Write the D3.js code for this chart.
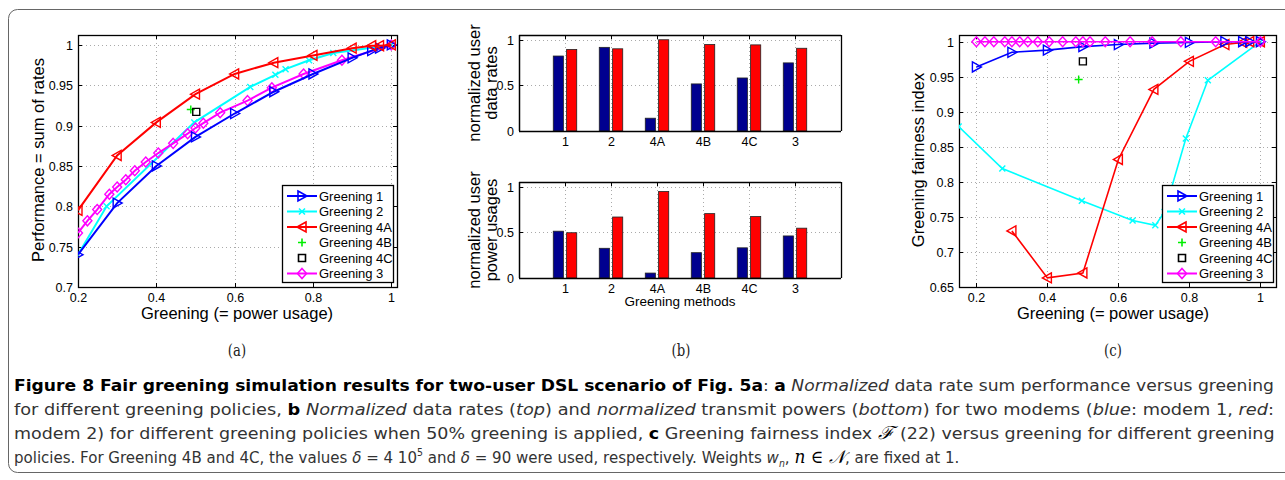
<!DOCTYPE html>
<html>
<head>
<meta charset="utf-8">
<script src="https://cdn.jsdelivr.net/npm/d3@7"></script>
<style>
  body { margin: 0; background: #fff; }
  svg { display: block; }
</style>
</head>
<body>
<svg id="fig" width="1285" height="480" font-family="'Liberation Sans', Arial, Helvetica, sans-serif"></svg>
<script>
// ---- data ----
var redX = [0.2, 0.3, 0.4, 0.5, 0.6, 0.7, 0.8, 0.9, 0.95, 0.97, 1.0];
var g1A  = [0.740, 0.804, 0.850, 0.886, 0.915, 0.942, 0.964, 0.984, 0.993, 0.996, 1.0];
var g1C  = [0.964, 0.985, 0.988, 0.993, 0.996, 0.998, 0.999, 1.0, 1.0, 1.0, 1.0];
var g4aA = [0.795, 0.863, 0.904, 0.939, 0.964, 0.978, 0.987, 0.996, 0.999, 0.999, 1.0];
var g4aC = [null, 0.730, 0.663, 0.670, 0.832, 0.932, 0.972, 0.996, 0.999, 1.0, 1.0];

var g2X  = [0.15, 0.273, 0.497, 0.64, 0.704, 0.73, 0.79, 0.852, 1.0];
var g2A  = [0.699, 0.800, 0.904, 0.948, 0.963, 0.970, 0.981, 0.990, 1.0];
var g2C  = [0.879, 0.819, 0.773, 0.745, 0.738, 0.757, 0.862, 0.945, 1.0];

var g3X  = [0.2, 0.224, 0.249, 0.28, 0.3, 0.322, 0.345, 0.373, 0.405, 0.443, 0.48, 0.5, 0.52, 0.563, 0.633, 0.695, 0.776, 0.874, 1.0];
var g3A  = [0.767, 0.782, 0.796, 0.815, 0.824, 0.833, 0.844, 0.855, 0.866, 0.878, 0.890, 0.897, 0.903, 0.916, 0.931, 0.947, 0.964, 0.981, 1.0];
var g3C  = [1, 1, 1, 1, 1, 1, 1, 1, 1, 1, 1, 1, 1, 1, 1, 1, 1, 1, 1];

var g4bA = [0.488, 0.920], g4bC = [0.488, 0.946];
var g4cA = [0.502, 0.917], g4cC = [0.500, 0.972];

var methods = ["1", "2", "4A", "4B", "4C", "3"];
var rate1 = [0.820, 0.915, 0.140, 0.515, 0.580, 0.745];
var rate2 = [0.892, 0.899, 0.998, 0.946, 0.942, 0.905];
var pow1  = [0.512, 0.325, 0.054, 0.277, 0.330, 0.460];
var pow2  = [0.495, 0.667, 0.946, 0.704, 0.672, 0.545];

var lineTicksA = [0.7, 0.75, 0.8, 0.85, 0.9, 0.95, 1];
var lineTicksC = [0.65, 0.7, 0.75, 0.8, 0.85, 0.9, 0.95, 1];
var xTicks = [0.2, 0.4, 0.6, 0.8, 1];
var barTicks = [0, 0.5, 1];
var legendNames = ["Greening 1", "Greening 2", "Greening 4A", "Greening 4B", "Greening 4C", "Greening 3"];

var svg = d3.select("#fig");
svg.append("rect").attr("width", 1285).attr("height", 480).attr("fill", "#fff");
// rounded frame round the figure
svg.append("rect").attr("x", 8.5).attr("y", 9.5).attr("width", 1300).attr("height", 463)
  .attr("rx", 9).attr("fill", "none").attr("stroke", "#666").attr("stroke-width", 1);

var markers = {
  right: "M-4,-5L5,0L-4,5Z",
  left: "M4,-5L-5,0L4,5Z",
  cross: "M-3,-3L3,3M-3,3L3,-3",
  plus: "M-4,0H4M0,-4V4",
  square: "M-3.5,-3.5h7v7h-7z",
  diamond: "M0,-5L4.5,0L0,5L-4.5,0Z"
};

function makeAxes(id, box, xDom, yDom, xt, yt, fmtX, fmtY) {
  var g = svg.append("g");
  var x = d3.scaleLinear().domain(xDom).range([box.x0, box.x1]);
  var y = d3.scaleLinear().domain(yDom).range([box.y1, box.y0]);
  svg.append("clipPath").attr("id", id).append("rect")
    .attr("x", box.x0).attr("y", box.y0).attr("width", box.x1 - box.x0).attr("height", box.y1 - box.y0);
  // grid
  g.selectAll(null).data(xt).enter().append("line")
    .attr("x1", function(d) { return Math.round(x(d)) + 0.5; }).attr("x2", function(d) { return Math.round(x(d)) + 0.5; })
    .attr("y1", box.y0).attr("y2", box.y1)
    .attr("stroke", "#aaa").attr("stroke-dasharray", "1,3");
  g.selectAll(null).data(yt).enter().append("line")
    .attr("y1", function(d) { return Math.round(y(d)) + 0.5; }).attr("y2", function(d) { return Math.round(y(d)) + 0.5; })
    .attr("x1", box.x0).attr("x2", box.x1)
    .attr("stroke", "#aaa").attr("stroke-dasharray", "1,3");
  // inner ticks on all four sides
  var tk = 4;
  xt.forEach(function(d) {
    var px = Math.round(x(d)) + 0.5;
    g.append("line").attr("x1", px).attr("x2", px).attr("y1", box.y1).attr("y2", box.y1 - tk).attr("stroke", "#000");
    g.append("line").attr("x1", px).attr("x2", px).attr("y1", box.y0).attr("y2", box.y0 + tk).attr("stroke", "#000");
    g.append("text").attr("x", px).attr("y", box.y1 + 15).attr("text-anchor", "middle")
      .attr("font-size", 12.5).text(fmtX(d));
  });
  yt.forEach(function(d) {
    var py = Math.round(y(d)) + 0.5;
    g.append("line").attr("x1", box.x0).attr("x2", box.x0 + tk).attr("y1", py).attr("y2", py).attr("stroke", "#000");
    g.append("line").attr("x1", box.x1).attr("x2", box.x1 - tk).attr("y1", py).attr("y2", py).attr("stroke", "#000");
    g.append("text").attr("x", box.x0 - 5).attr("y", py + 4.5).attr("text-anchor", "end")
      .attr("font-size", 12.5).text(fmtY(d));
  });
  g.append("rect").attr("x", box.x0 + 0.5).attr("y", box.y0 + 0.5)
    .attr("width", box.x1 - box.x0).attr("height", box.y1 - box.y0)
    .attr("fill", "none").attr("stroke", "#000").attr("stroke-width", 1.3);
  return { x: x, y: y, g: g };
}

function series(ax, clipId, xs, ys, color, mk, lw) {
  var pts = xs.map(function(d, i) { return [d, ys[i]]; });
  var gg = svg.append("g").attr("clip-path", "url(#" + clipId + ")");
  if (lw > 0) {
    gg.append("path").datum(pts)
      .attr("d", d3.line().defined(function(p) { return p[1] != null; })
        .x(function(p) { return ax.x(p[0]); }).y(function(p) { return ax.y(p[1]); }))
      .attr("fill", "none").attr("stroke", color).attr("stroke-width", lw);
  }
  gg.selectAll(null).data(pts.filter(function(p) { return p[1] != null; })).enter().append("path")
    .attr("transform", function(p) { return "translate(" + ax.x(p[0]) + "," + ax.y(p[1]) + ")"; })
    .attr("d", markers[mk]).attr("fill", "none").attr("stroke", color).attr("stroke-width", 1.4);
}

var legendSpec = [
  { c: "#0000ff", m: "right", line: true },
  { c: "#00ffff", m: "cross", line: true },
  { c: "#ff0000", m: "left", line: true },
  { c: "#00ee00", m: "plus", line: false },
  { c: "#000000", m: "square", line: false },
  { c: "#ff00ff", m: "diamond", line: true }
];

function legend(x0, y0, w) {
  var g = svg.append("g");
  g.append("rect").attr("x", x0 + 0.5).attr("y", y0 + 0.5).attr("width", w).attr("height", 97)
    .attr("fill", "#fff").attr("stroke", "#000").attr("stroke-width", 1.3);
  legendNames.forEach(function(n, i) {
    var cy = y0 + 11 + i * 15.5;
    var s = legendSpec[i];
    if (s.line) g.append("line").attr("x1", x0 + 5).attr("x2", x0 + 35).attr("y1", cy).attr("y2", cy)
      .attr("stroke", s.c).attr("stroke-width", 2);
    g.append("path").attr("transform", "translate(" + (x0 + 20) + "," + cy + ")")
      .attr("d", markers[s.m]).attr("fill", "none").attr("stroke", s.c).attr("stroke-width", 1.6);
    g.append("text").attr("x", x0 + 37).attr("y", cy + 4.5).attr("font-size", 13).text(n);
  });
}

var f2 = function(d) { return d === 1 ? "1" : String(d); };

// ---- panel (a) ----
var boxA = { x0: 78, x1: 397, y0: 35, y1: 287 };
var axA = makeAxes("clipA", boxA, [0.2, 1.0146], [0.7, 1.0123], xTicks, lineTicksA, f2, f2);
series(axA, "clipA", g2X, g2A, "#00ffff", "cross", 2);
series(axA, "clipA", g3X, g3A, "#ff00ff", "diamond", 2);
series(axA, "clipA", redX, g1A, "#0000ff", "right", 2);
series(axA, "clipA", redX, g4aA, "#ff0000", "left", 2);
series(axA, "clipA", [g4bA[0]], [g4bA[1]], "#00ee00", "plus", 0);
series(axA, "clipA", [g4cA[0]], [g4cA[1]], "#000000", "square", 0);
legend(282, 185, 111);
axA.g.append("text").attr("x", 237).attr("y", 319).attr("text-anchor", "middle").attr("font-size", 16.5)
  .text("Greening (= power usage)");
axA.g.append("text").attr("transform", "translate(44,160) rotate(-90)").attr("text-anchor", "middle")
  .attr("font-size", 16.5).text("Performance = sum of rates");

// ---- panel (c) ----
var boxC = { x0: 959, x1: 1276, y0: 35, y1: 287 };
var axC = makeAxes("clipC", boxC, [0.151, 1.044], [0.65, 1.0096], xTicks, lineTicksC, f2, f2);
series(axC, "clipC", g2X, g2C, "#00ffff", "cross", 1.6);
series(axC, "clipC", redX, g4aC, "#ff0000", "left", 1.6);
series(axC, "clipC", redX, g1C, "#0000ff", "right", 1.6);
series(axC, "clipC", g3X, g3C, "#ff00ff", "diamond", 1.6);
series(axC, "clipC", [g4bC[0]], [g4bC[1]], "#00ee00", "plus", 0);
series(axC, "clipC", [g4cC[0]], [g4cC[1]], "#000000", "square", 0);
legend(1162, 185, 111);
axC.g.append("text").attr("x", 1113).attr("y", 319).attr("text-anchor", "middle").attr("font-size", 16.5)
  .text("Greening (= power usage)");
axC.g.append("text").attr("transform", "translate(924,160) rotate(-90)").attr("text-anchor", "middle")
  .attr("font-size", 16.5).text("Greening fairness index");

// ---- panel (b) ----
function barPanel(box, v1, v2, lines) {
  var g = svg.append("g");
  var x = d3.scaleLinear().domain([0, 7]).range([box.x0, box.x1]);
  var y = d3.scaleLinear().domain([0, 1.05]).range([box.y1, box.y0]);
  methods.forEach(function(m, i) {
    var px = Math.round(x(i + 1)) + 0.5;
    g.append("line").attr("x1", px).attr("x2", px).attr("y1", box.y0).attr("y2", box.y1)
      .attr("stroke", "#aaa").attr("stroke-dasharray", "1,3");
  });
  barTicks.forEach(function(d) {
    var py = Math.round(y(d)) + 0.5;
    g.append("line").attr("x1", box.x0).attr("x2", box.x1).attr("y1", py).attr("y2", py)
      .attr("stroke", "#aaa").attr("stroke-dasharray", "1,3");
  });
  var bw = 0.22, off = 0.145;
  [[v1, "#00008f", -off], [v2, "#ff0000", off]].forEach(function(s) {
    g.selectAll(null).data(s[0]).enter().append("rect")
      .attr("x", function(d, i) { return x(i + 1 + s[2] - bw / 2); })
      .attr("width", x(bw) - x(0))
      .attr("y", function(d) { return y(d); })
      .attr("height", function(d) { return y(0) - y(d); })
      .attr("fill", s[1]).attr("stroke", "#222").attr("stroke-width", 0.8);
  });
  methods.forEach(function(m, i) {
    var px = Math.round(x(i + 1)) + 0.5;
    g.append("line").attr("x1", px).attr("x2", px).attr("y1", box.y0).attr("y2", box.y0 + 4).attr("stroke", "#000");
    g.append("text").attr("x", px).attr("y", box.y1 + 15).attr("text-anchor", "middle")
      .attr("font-size", 12.5).text(m);
  });
  barTicks.forEach(function(d) {
    var py = Math.round(y(d)) + 0.5;
    g.append("line").attr("x1", box.x0).attr("x2", box.x0 + 4).attr("y1", py).attr("y2", py).attr("stroke", "#000");
    g.append("text").attr("x", box.x0 - 5).attr("y", py + 4.5).attr("text-anchor", "end")
      .attr("font-size", 12.5).text(String(d));
  });
  g.append("line").attr("x1", box.x0).attr("x2", box.x1).attr("y1", box.y1 + 0.5).attr("y2", box.y1 + 0.5)
    .attr("stroke", "#000").attr("stroke-width", 1.5);
  g.append("line").attr("x1", box.x0 + 0.5).attr("x2", box.x0 + 0.5).attr("y1", box.y0).attr("y2", box.y1)
    .attr("stroke", "#000").attr("stroke-width", 1.5);
  g.append("line").attr("x1", box.x0).attr("x2", box.x1).attr("y1", box.y0 + 0.5).attr("y2", box.y0 + 0.5)
    .attr("stroke", "#000").attr("stroke-width", 1.3);
  g.append("line").attr("x1", box.x1 + 0.5).attr("x2", box.x1 + 0.5).attr("y1", box.y0).attr("y2", box.y1)
    .attr("stroke", "#000").attr("stroke-width", 1.3);
  var cy = (box.y0 + box.y1) / 2;
  var t = g.append("text").attr("transform", "translate(480," + cy + ") rotate(-90)")
    .attr("text-anchor", "middle").attr("font-size", 16.5);
  t.append("tspan").attr("x", 0).attr("y", 0).text(lines[0]);
  t.append("tspan").attr("x", 0).attr("y", 16.5).text(lines[1]);
  return g;
}
barPanel({ x0: 519, x1: 841, y0: 35, y1: 131 }, rate1, rate2, ["normalized user", "data rates"]);
var gb = barPanel({ x0: 519, x1: 841, y0: 182, y1: 278 }, pow1, pow2, ["normalized user", "power usages"]);
gb.append("text").attr("x", 680).attr("y", 306).attr("text-anchor", "middle").attr("font-size", 13.5)
  .text("Greening methods");

// ---- sub-captions and figure caption ----
var capFont = "'DejaVu Sans', 'Liberation Sans', sans-serif";
[["(a)", 237], ["(b)", 681], ["(c)", 1113]].forEach(function(d) {
  svg.append("text").attr("x", d[1]).attr("y", 356).attr("text-anchor", "middle")
    .attr("font-family", "'DejaVu Serif', serif").attr("font-size", 17).attr("fill", "#222")
    .attr("transform", "translate(" + d[1] + ",0) scale(0.78,1) translate(" + (-d[1]) + ",0)")
    .text(d[0]);
});

var capLines = [
  [["b", "Figure 8 Fair greening simulation results for two-user DSL scenario of Fig. 5a"], ["", ": "], ["b", "a"], ["", " "], ["i", "Normalized"], ["", " data rate sum performance versus greening"]],
  [["", "for different greening policies, "], ["b", "b"], ["", " "], ["i", "Normalized"], ["", " data rates ("], ["i", "top"], ["", ") and "], ["i", "normalized"], ["", " transmit powers ("], ["i", "bottom"], ["", ") for two modems ("], ["i", "blue"], ["", ": modem 1, "], ["i", "red"], ["", ":"]],
  [["", "modem 2) for different greening policies when 50% greening is applied, "], ["b", "c"], ["", " Greening fairness index "], ["m", "\u2131"], ["", " (22) versus greening for different greening"]],
  [["", "policies. For Greening 4B and 4C, the values "], ["i", "\u03b4"], ["", " = 4 10"], ["sup", "5"], ["", " and "], ["i", "\u03b4"], ["", " = 90 were used, respectively. Weights "], ["i", "w"], ["sub", "n"], ["", ", "], ["m", "n \u2208 \u{1D4A9}"], ["", ", are fixed at 1."]]
];
var capBase = [391, 415, 439, 463];
var fullWidth = 1261;
var nodes = [];
capLines.forEach(function(line, li) {
  var t = svg.append("text").attr("x", 0).attr("y", 0)
    .attr("font-family", capFont).attr("font-size", 16).attr("fill", "#333");
  line.forEach(function(p) {
    var s = t.append("tspan").text(p[1]);
    if (p[0] === "b") s.attr("font-weight", "bold").attr("fill", "#000");
    if (p[0] === "i") s.attr("font-style", "italic");
    if (p[0] === "m") s.attr("font-family", "'DejaVu Serif', serif").attr("font-style", "italic").attr("font-size", 18).attr("fill", "#000");
    if (p[0] === "sup") s.attr("font-size", 10).attr("baseline-shift", "7");
    if (p[0] === "sub") s.attr("font-size", 10).attr("baseline-shift", "-4").attr("font-style", "italic");
  });
  nodes.push(t);
});
// lines 1-3 are justified to the full width; the last line is a bit narrower and left ragged
var ks = [];
nodes.forEach(function(t, li) {
  var w = t.node().getComputedTextLength();
  var k = li < 3 ? fullWidth / w : 0.86 * d3.mean(ks);
  ks.push(k);
  t.attr("transform", "translate(14," + capBase[li] + ") scale(" + k + ",1)");
});
</script>
</body>
</html>
